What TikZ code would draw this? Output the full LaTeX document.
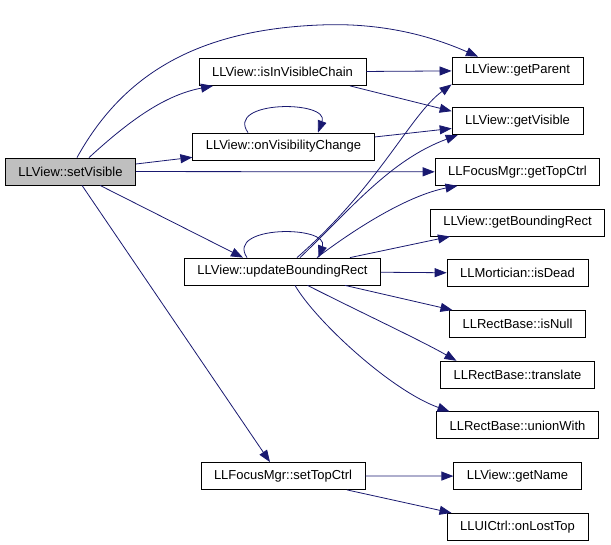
\documentclass[tikz,border=0pt]{standalone}
\usepackage{fontspec}
\setmainfont{Liberation Sans}
\usetikzlibrary{positioning,calc,arrows.meta}
\definecolor{callblue}{HTML}{191970}
\definecolor{rootgray}{HTML}{BFBFBF}

\begin{document}
\begin{tikzpicture}[x=1pt, y=-1pt, node distance=22.9pt,
    fn/.style={rectangle, draw=black, line width=0.8pt, fill=white, inner xsep=13pt, inner ysep=0pt, minimum height=27pt, font=\fontsize{13}{15}\selectfont},
    call/.style={-{Triangle[length=12pt, width=9pt]}, draw=callblue, line width=0.8pt}]
    \useasboundingbox (0,0) rectangle (611,545);

    % Caller - left
    \node [fn, fill=rootgray] (setVisible) at (70.5,171.5) {LLView::setVisible};

    % Direct callees - middle column
    \node [fn] (isInVisibleChain) at (282.5,72) {LLView::isInVisibleChain};
    \node [fn] (onVisibilityChange) at (283.5,146.5) {LLView::onVisibilityChange};
    \node [fn] (updateBoundingRect) at (282.5,271.5) {LLView::updateBoundingRect};
    \node [fn] (setTopCtrl) at (283,476) {LLFocusMgr::setTopCtrl};

    % Leaf callees - right column
    \node [fn] (getParent) at (517.5,70.5) {LLView::getParent};
    \node [fn, below=of getParent] (getVisible) {LLView::getVisible};
    \node [fn, below=of getVisible] (getTopCtrl) {LLFocusMgr::getTopCtrl};
    \node [fn, below=of getTopCtrl] (getBoundingRect) {LLView::getBoundingRect};
    \node [fn, below=of getBoundingRect] (isDead) {LLMortician::isDead};
    \node [fn, below=of isDead] (isNull) {LLRectBase::isNull};
    \node [fn, below=of isNull] (translate) {LLRectBase::translate};
    \node [fn, below=of translate] (unionWith) {LLRectBase::unionWith};
    \node [fn, below=of unionWith] (getName) {LLView::getName};
    \node [fn, below=of getName] (onLostTop) {LLUICtrl::onLostTop};

    % setVisible calls
    \draw [call] ([xshift=6.5pt]setVisible.north) .. controls (120,80) and (190,30) .. (320,25) .. controls (390,22) and (440,40) .. ([xshift=-39.5pt]getParent.north);
    \draw [call] ([xshift=18.5pt]setVisible.north) .. controls (130,120) and (165,95) .. ([xshift=-69.5pt]isInVisibleChain.south);
    \draw [call] ([yshift=7.5pt]setVisible.east) -- (onVisibilityChange);
    \draw [call] (setVisible) -- (getTopCtrl);
    \draw [call] ([xshift=29.5pt]setVisible.south) -- ([xshift=-39.5pt]updateBoundingRect.north);
    \draw [call] ([xshift=11.5pt]setVisible.south) -- ([xshift=-13pt]setTopCtrl.north);

    % isInVisibleChain calls
    \draw [call] (isInVisibleChain) -- (getParent);
    \draw [call] ([xshift=67.5pt]isInVisibleChain.south) -- ([yshift=10pt]getVisible.west);

    % onVisibilityChange calls
    \draw [call] ([xshift=-35.5pt]onVisibilityChange.north) .. controls (225,100) and (330,100) .. ([xshift=34.5pt]onVisibilityChange.north);
    \draw [call] ([yshift=9.5pt]onVisibilityChange.east) -- (getVisible);

    % updateBoundingRect calls
    \draw [call] ([xshift=-35.5pt]updateBoundingRect.north) .. controls (225,225) and (330,225) .. ([xshift=36pt]updateBoundingRect.north);
    \draw [call] ([xshift=14.5pt]updateBoundingRect.north) .. controls (380,185) and (410,115) .. (getParent.south west);
    \draw [call] ([xshift=17.5pt]updateBoundingRect.north) .. controls (350,210) and (390,160) .. ([xshift=6pt]getVisible.south west);
    \draw [call] ([xshift=34.5pt]updateBoundingRect.north) .. controls (360,225) and (410,195) .. ([xshift=-60pt]getTopCtrl.south);
    \draw [call] ([xshift=67.5pt]updateBoundingRect.north) -- ([xshift=-67.5pt]getBoundingRect.south);
    \draw [call] (updateBoundingRect) -- (isDead);
    \draw [call] ([xshift=62.5pt]updateBoundingRect.south) -- ([xshift=-65pt]isNull.north);
    \draw [call] ([xshift=25pt]updateBoundingRect.south) .. controls (360,312) and (420,340) .. ([xshift=-61pt]translate.north);
    \draw [call] ([xshift=12.5pt]updateBoundingRect.south) .. controls (315,320) and (390,390) .. ([xshift=-68pt]unionWith.north);

    % setTopCtrl calls
    \draw [call] (setTopCtrl) -- (getName);
    \draw [call] ([xshift=64pt]setTopCtrl.south) -- ([xshift=-66pt]onLostTop.north);

\end{tikzpicture}
\end{document}
